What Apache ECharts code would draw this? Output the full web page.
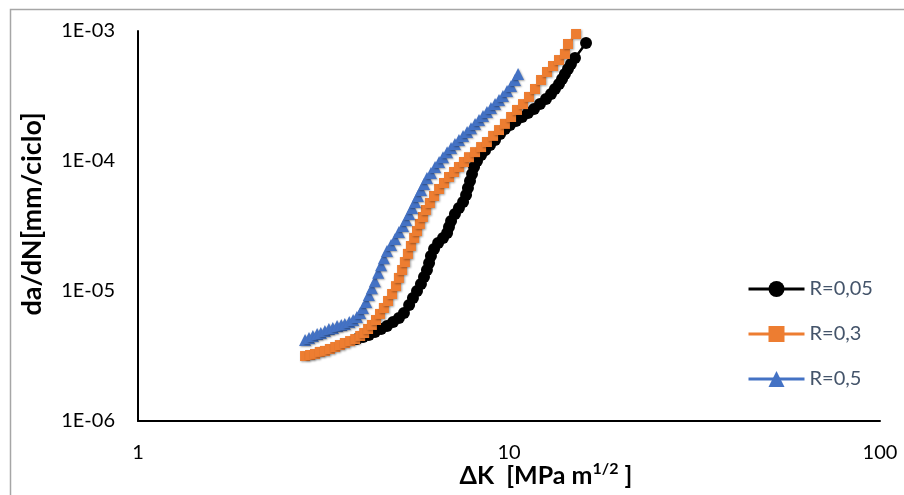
<!DOCTYPE html>
<html>
<head>
<meta charset="utf-8">
<script src="https://cdn.jsdelivr.net/npm/echarts@6/dist/echarts.min.js"></script>
<style>html,body{margin:0;padding:0;background:#fff}#c{width:904px;height:495px}</style>
</head>
<body>
<div id="c"></div>
<script>
// ΔK [MPa m^1/2] and da/dN [mm/ciclo]
const k005 = [3.89,4.04,4.19,4.35,4.52,4.69,4.87,5.05,5.21,5.38,5.51,5.65,5.79,5.90,6.01,6.09,6.16,6.28,6.44,6.64,6.81,6.89,6.98,7.15,7.33,7.52,7.66,7.75,7.85,7.95,8.05,8.20,8.41,8.62,8.89,9.17,9.46,9.75,10.06,10.44,10.84,11.25,11.68,12.12,12.58,12.98,13.30,13.64,13.90,14.15,14.42,14.69,15.06,16.13];
const v005 = [4.27e-6,4.43e-6,4.59e-6,4.84e-6,5.10e-6,5.38e-6,5.78e-6,6.20e-6,6.77e-6,7.80e-6,8.84e-6,1.00e-5,1.13e-5,1.28e-5,1.45e-5,1.64e-5,1.86e-5,2.10e-5,2.34e-5,2.56e-5,2.79e-5,3.11e-5,3.46e-5,3.91e-5,4.35e-5,4.84e-5,5.48e-5,6.20e-5,7.02e-5,7.94e-5,8.99e-5,1.00e-4,1.11e-4,1.21e-4,1.33e-4,1.45e-4,1.61e-4,1.76e-4,1.89e-4,2.03e-4,2.18e-4,2.34e-4,2.51e-4,2.74e-4,3.00e-4,3.28e-4,3.58e-4,3.91e-4,4.27e-4,4.67e-4,5.10e-4,5.58e-4,6.20e-4,8.09e-4];

const k03 = [2.82,2.91,3.00,3.09,3.19,3.29,3.40,3.50,3.61,3.73,3.85,3.97,4.07,4.17,4.27,4.38,4.49,4.60,4.72,4.84,4.96,5.05,5.15,5.24,5.34,5.44,5.55,5.65,5.75,5.86,5.97,6.12,6.28,6.48,6.68,6.89,7.11,7.33,7.56,7.80,8.10,8.41,8.72,9.06,9.40,9.75,10.13,10.51,10.91,11.32,11.75,12.20,12.66,13.14,13.64,14.15,14.42,15.16];
const v03 = [3.16e-6,3.22e-6,3.28e-6,3.40e-6,3.46e-6,3.58e-6,3.71e-6,3.84e-6,3.98e-6,4.12e-6,4.27e-6,4.51e-6,4.75e-6,5.10e-6,5.48e-6,5.98e-6,6.66e-6,7.40e-6,8.38e-6,9.48e-6,1.09e-5,1.26e-5,1.45e-5,1.67e-5,1.93e-5,2.22e-5,2.56e-5,2.89e-5,3.28e-5,3.71e-5,4.20e-5,4.75e-5,5.38e-5,6.09e-5,6.77e-5,7.53e-5,8.23e-5,8.99e-5,9.82e-5,1.07e-4,1.17e-4,1.28e-4,1.40e-4,1.56e-4,1.73e-4,1.93e-4,2.18e-4,2.47e-4,2.74e-4,3.11e-4,3.58e-4,4.20e-4,4.84e-4,5.38e-4,5.98e-4,6.66e-4,7.94e-4,9.48e-4];

const k05 = [2.82,2.89,2.96,3.04,3.11,3.19,3.27,3.35,3.44,3.53,3.61,3.71,3.80,3.89,3.97,4.04,4.12,4.19,4.27,4.35,4.44,4.52,4.60,4.69,4.81,4.93,5.05,5.18,5.28,5.38,5.48,5.58,5.68,5.79,5.90,6.01,6.16,6.32,6.48,6.64,6.81,6.98,7.15,7.33,7.52,7.71,7.90,8.10,8.30,8.51,8.72,8.94,9.17,9.40,9.63,9.88,10.13,10.38,10.58];
const v05 = [4.20e-6,4.35e-6,4.51e-6,4.67e-6,4.75e-6,4.92e-6,5.10e-6,5.19e-6,5.38e-6,5.48e-6,5.58e-6,5.78e-6,5.98e-6,6.31e-6,6.77e-6,7.40e-6,8.23e-6,9.31e-6,1.05e-5,1.19e-5,1.38e-5,1.58e-5,1.79e-5,2.03e-5,2.26e-5,2.51e-5,2.84e-5,3.16e-5,3.52e-5,3.91e-5,4.35e-5,4.84e-5,5.38e-5,5.98e-5,6.66e-5,7.40e-5,8.09e-5,8.99e-5,9.82e-5,1.07e-4,1.17e-4,1.26e-4,1.35e-4,1.45e-4,1.56e-4,1.67e-4,1.79e-4,1.93e-4,2.07e-4,2.22e-4,2.38e-4,2.56e-4,2.74e-4,2.95e-4,3.16e-4,3.46e-4,3.78e-4,4.20e-4,4.67e-4];

const seriesNames = ['R=0,05','R=0,3','R=0,5'];
const xTicks = [1,10,100];
const yTicks = [1e-6,1e-5,1e-4,1e-3];

const pairs = (ks, vs) => ks.map((k, i) => [k, vs[i]]);
const FONT = 'Lato, "Open Sans", sans-serif';

const chart = echarts.init(document.getElementById('c'), null, {renderer: 'canvas'});
const fmtY = v => {
  const e = Math.round(Math.log10(v));
  return '1E' + (e < 0 ? '-' : '+') + String(Math.abs(e)).padStart(2, '0');
};
const shadow = {shadowColor: 'rgba(0,0,0,0.35)', shadowBlur: 2, shadowOffsetX: 1, shadowOffsetY: 1};

chart.setOption({
  animation: false,
  backgroundColor: '#fff',
  grid: {left: 138, top: 31, right: 24, bottom: 74, containLabel: false, outerBoundsMode: 'none'},
  graphic: [
    {type: 'rect', left: 8, top: 7, shape: {width: 1000, height: 1000}, style: {fill: 'none', stroke: '#a6a6a6', lineWidth: 1.5}, z: -1},
    {type: 'text', x: 32, y: 214, rotation: Math.PI / 2,
     style: {text: 'da/dN[mm/ciclo]', font: 'bold 27px ' + FONT, fill: '#000', textAlign: 'center', textVerticalAlign: 'middle'}}
  ],
  xAxis: {
    type: 'log', logBase: 10, min: xTicks[0], max: xTicks[xTicks.length - 1],
    axisLine: {lineStyle: {color: '#000', width: 2}},
    axisTick: {show: false},
    splitLine: {show: false},
    minorTick: {show: false},
    axisLabel: {color: '#000', fontSize: 20, fontFamily: FONT, margin: 22,
      formatter: v => String(Math.round(v))},
    name: '{b|ΔK  [MPa m}{s|1/2}{b| ]}',
    nameLocation: 'middle', nameGap: 40, nameMoveOverlap: false,
    nameTextStyle: {padding: [0, 0, 0, 74],
      rich: {
        b: {fontSize: 25, fontWeight: 'bold', fontFamily: FONT, color: '#000', lineHeight: 30},
        s: {fontSize: 16, fontWeight: 'bold', fontFamily: FONT, color: '#000', lineHeight: 30, verticalAlign: 'top', padding: [0, 0, 8, 0]}
      }}
  },
  yAxis: {
    type: 'log', logBase: 10, min: yTicks[0], max: yTicks[yTicks.length - 1],
    axisLine: {show: true, lineStyle: {color: '#000', width: 2}},
    axisTick: {show: false},
    splitLine: {show: false},
    axisLabel: {color: '#000', fontSize: 20, fontFamily: FONT, margin: 23, formatter: fmtY}
  },
  legend: {
    orient: 'vertical', left: 742, top: 274,
    itemWidth: 56, itemHeight: 20, itemGap: 25,
    textStyle: {color: '#44546A', fontSize: 20, fontFamily: FONT, lineHeight: 20},
    lineStyle: {width: 3},
    data: seriesNames
  },
  series: [
    {name: seriesNames[0], type: 'line', data: pairs(k005, v005), symbol: 'circle', symbolSize: 12,
     lineStyle: {color: '#000', width: 2.5}, itemStyle: {color: '#000'}},
    {name: seriesNames[1], type: 'line', data: pairs(k03, v03), symbol: 'rect', symbolSize: 10,
     lineStyle: {color: '#ED7D31', width: 2.5}, itemStyle: Object.assign({color: '#ED7D31'}, shadow)},
    {name: seriesNames[2], type: 'line', data: pairs(k05, v05), symbol: 'triangle', symbolSize: 12,
     lineStyle: {color: '#4472C4', width: 2.5}, itemStyle: Object.assign({color: '#4472C4'}, shadow)}
  ]
});
</script>
</body>
</html>
